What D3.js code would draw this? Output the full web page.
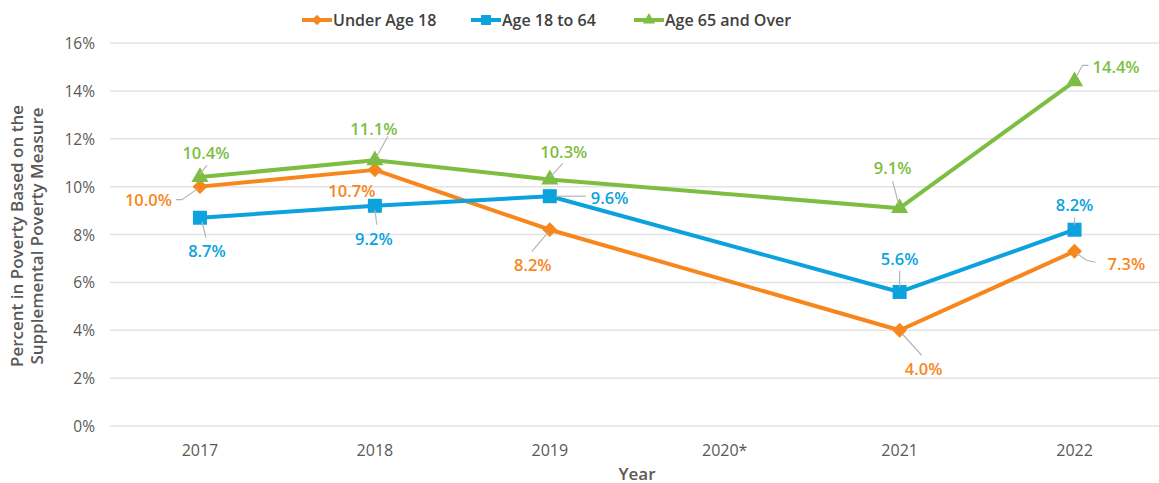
<!DOCTYPE html>
<html>
<head>
<meta charset="utf-8">
<script src="https://cdn.jsdelivr.net/npm/d3@7"></script>
<style>
  body { margin: 0; background: #fff; }
  svg text { font-family: "Open Sans", "Noto Sans", sans-serif; }
</style>
</head>
<body>
<div id="chart"></div>
<script>
// chart data
const years = ['2017', '2018', '2019', '2020*', '2021', '2022'];
const dataYears = ['2017', '2018', '2019', '2021', '2022'];
const under18 = [10.0, 10.7, 8.2, 4.0, 7.3];
const age18to64 = [8.7, 9.2, 9.6, 5.6, 8.2];
const age65over = [10.4, 11.1, 10.3, 9.1, 14.4];
const yTicks = [0, 2, 4, 6, 8, 10, 12, 14, 16];

// label placement (offsets from the point, leader polyline)
const under18Labels = [
    { dx: -28, dy: 13, anchor: 'end', leader: [[-2, 2], [-18, 13], [-24, 13]] },
    { dx: -23, dy: 21, anchor: 'middle', leader: null },
    { dx: -17, dy: 35, anchor: 'middle', leader: [[-2, 3], [-18, 22]] },
    { dx: 24, dy: 38, anchor: 'middle', leader: [[3, 4], [22, 25]] },
    { dx: 33, dy: 12, anchor: 'start', leader: [[2, 2], [12, 9], [21, 11]] }
];
const age18to64Labels = [
    { dx: 7, dy: 33, anchor: 'middle', leader: [[2, 4], [6, 20]] },
    { dx: -1, dy: 33, anchor: 'middle', leader: [[0, 4], [2, 19]] },
    { dx: 41, dy: 1, anchor: 'start', leader: [[6, 0], [36, 0]] },
    { dx: 0, dy: -33, anchor: 'middle', leader: [[0, -5], [0, -21]] },
    { dx: 0, dy: -25, anchor: 'middle', leader: [[0, -5], [0, -12]] }
];
const age65overLabels = [
    { dx: 6, dy: -25, anchor: 'middle', leader: [[0, -3], [7, -12]] },
    { dx: -1, dy: -32, anchor: 'middle', leader: [[2, -4], [13, -24]] },
    { dx: 14, dy: -28, anchor: 'middle', leader: [[1, -3], [13, -16]] },
    { dx: -7, dy: -41, anchor: 'middle', leader: [[-1, -4], [-7, -27]] },
    { dx: 18, dy: -15, anchor: 'start', leader: [[2, -5], [8, -16], [14, -16]] }
];

const series = [
    { name: 'Under Age 18', values: under18, labels: under18Labels, color: '#F7861D', symbol: d3.symbolDiamond2, size: 140, legendX: 302 },
    { name: 'Age 18 to 64', values: age18to64, labels: age18to64Labels, color: '#0BA2DE', symbol: d3.symbolSquare2, size: 250, legendX: 471 },
    { name: 'Age 65 and Over', values: age65over, labels: age65overLabels, color: '#7DBE42', symbol: d3.symbolTriangle2, size: 210, legendX: 634 }
];

const width = 1159, height = 483;
const margin = { top: 43, right: 0, bottom: 57, left: 110 };

const svg = d3.select('#chart').append('svg')
    .attr('width', width)
    .attr('height', height);

const x = d3.scalePoint()
    .domain(years)
    .range([margin.left + 2.5, width + 3])
    .padding(0.5);

const y = d3.scaleLinear()
    .domain([0, 16])
    .range([height - margin.bottom, margin.top]);

// gridlines
svg.append('g')
    .selectAll('line')
    .data(yTicks)
    .join('line')
    .attr('x1', margin.left)
    .attr('x2', width)
    .attr('y1', d => y(d))
    .attr('y2', d => y(d))
    .attr('stroke', '#e3e3e3')
    .attr('stroke-width', 1.5);

// y tick labels
svg.append('g')
    .selectAll('text')
    .data(yTicks)
    .join('text')
    .attr('x', 95)
    .attr('y', d => y(d))
    .attr('text-anchor', 'end')
    .attr('dominant-baseline', 'central')
    .attr('font-size', 15.5)
    .attr('fill', '#595959')
    .text(d => d + '%');

// x tick labels
svg.append('g')
    .selectAll('text')
    .data(years)
    .join('text')
    .attr('x', d => x(d))
    .attr('y', 450)
    .attr('text-anchor', 'middle')
    .attr('dominant-baseline', 'central')
    .attr('font-size', 16)
    .attr('fill', '#595959')
    .text(d => d);

// axis titles
svg.append('text')
    .attr('x', 637)
    .attr('y', 473)
    .attr('text-anchor', 'middle')
    .attr('dominant-baseline', 'central')
    .attr('font-size', 17)
    .attr('font-weight', 600)
    .attr('fill', '#595959')
    .text('Year');

const yTitle = svg.append('text')
    .attr('transform', 'translate(27, 236) rotate(-90)')
    .attr('text-anchor', 'middle')
    .attr('font-size', 17)
    .attr('font-weight', 600)
    .attr('fill', '#595959');
yTitle.append('tspan').attr('x', 0).attr('dy', -4).text('Percent in Poverty Based on the');
yTitle.append('tspan').attr('x', 0).attr('dy', 20).text('Supplemental Poverty Measure');

// lines, markers, labels
const line = d3.line()
    .x(d => x(d.year))
    .y(d => y(d.value));

series.forEach(s => {
    const pts = dataYears.map((yr, i) => ({ year: yr, value: s.values[i], label: s.labels[i] }));
    const g = svg.append('g');

    g.append('path')
        .attr('d', line(pts))
        .attr('fill', 'none')
        .attr('stroke', s.color)
        .attr('stroke-width', 4)
        .attr('stroke-linejoin', 'round');

    g.selectAll('.marker')
        .data(pts)
        .join('path')
        .attr('class', 'marker')
        .attr('transform', d => `translate(${x(d.year)}, ${y(d.value)})`)
        .attr('d', d3.symbol().type(s.symbol).size(s.size))
        .attr('fill', s.color);

    pts.forEach(d => {
        const px = x(d.year), py = y(d.value);
        if (d.label.leader) {
            g.append('polyline')
                .attr('points', d.label.leader.map(p => [px + p[0], py + p[1]].join(',')).join(' '))
                .attr('fill', 'none')
                .attr('stroke', '#b5b5b5')
                .attr('stroke-width', 1.2);
        }
        g.append('text')
            .attr('x', px + d.label.dx)
            .attr('y', py + d.label.dy)
            .attr('text-anchor', d.label.anchor)
            .attr('dominant-baseline', 'central')
            .attr('font-size', 16.5)
            .attr('font-weight', 600)
            .attr('fill', s.color)
            .text(d.value.toFixed(1) + '%');
    });
});

// legend
const legend = svg.append('g');
series.forEach(s => {
    const lg = legend.append('g').attr('transform', `translate(${s.legendX}, 20)`);
    lg.append('line')
        .attr('x1', 0).attr('x2', 30)
        .attr('stroke', s.color)
        .attr('stroke-width', 4);
    lg.append('path')
        .attr('transform', 'translate(15, 0)')
        .attr('d', d3.symbol().type(s.symbol).size(s.size * 0.5))
        .attr('fill', s.color);
    lg.append('text')
        .attr('x', 31)
        .attr('dominant-baseline', 'central')
        .attr('font-size', 16)
        .attr('font-weight', 600)
        .attr('fill', '#404040')
        .text(s.name);
});
</script>
</body>
</html>
